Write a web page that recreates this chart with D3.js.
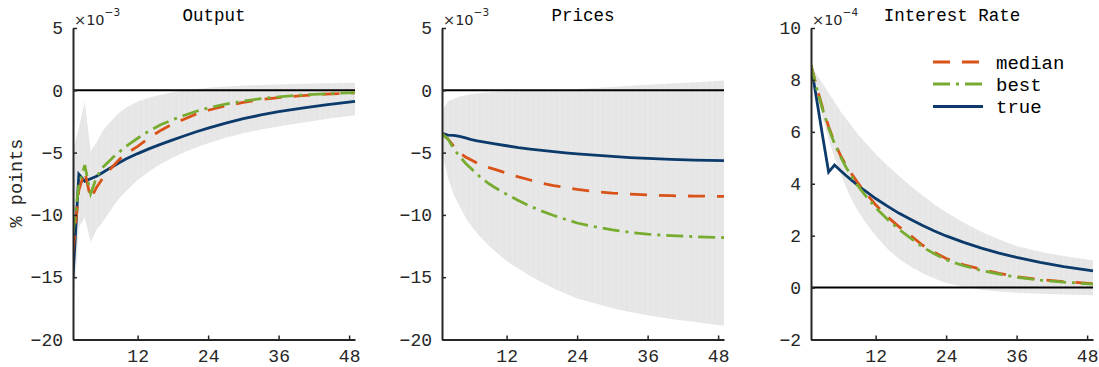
<!DOCTYPE html>
<html>
<head>
<meta charset="utf-8">
<script src="https://cdn.jsdelivr.net/npm/d3@7"></script>
<style>
  html, body { margin: 0; padding: 0; background: #ffffff; }
  svg { display: block; }
</style>
</head>
<body>
<div id="chart"></div>
<script>
// ---- data ----
const horizons = [1,2,3,4,5,6,7,8,9,10,12,14,16,18,20,22,24,27,30,33,36,40,44,49];

// Output (x 1e-3)
const outputMedian = [-13.0,-8.0,-6.5,-8.7,-7.8,-7.1,-6.5,-6.0,-5.5,-5.1,-4.5,-3.8,-3.2,-2.7,-2.3,-1.9,-1.6,-1.25,-0.96,-0.75,-0.58,-0.43,-0.31,-0.21];
const outputBest   = [-11.5,-7.6,-6.0,-8.3,-7.0,-6.2,-5.75,-5.3,-4.9,-4.5,-3.85,-3.25,-2.75,-2.35,-2.0,-1.68,-1.42,-1.1,-0.86,-0.67,-0.52,-0.38,-0.28,-0.18];
const outputTrue   = [-15.0,-6.75,-7.3,-7.1,-6.9,-6.62,-6.33,-6.05,-5.78,-5.52,-5.08,-4.68,-4.32,-3.98,-3.65,-3.33,-3.03,-2.63,-2.28,-1.98,-1.72,-1.43,-1.17,-0.88];
const outputLower  = [-18.0,-11.0,-10.2,-12.2,-11.2,-10.6,-9.9,-9.2,-8.6,-8.1,-7.2,-6.5,-5.9,-5.4,-4.95,-4.6,-4.25,-3.8,-3.45,-3.15,-2.9,-2.6,-2.3,-2.0];
const outputUpper  = [-4.8,-3.0,-0.9,-4.9,-4.2,-3.3,-2.7,-2.2,-1.75,-1.4,-0.9,-0.58,-0.35,-0.15,0.0,0.1,0.2,0.3,0.38,0.43,0.47,0.52,0.56,0.6];

// Prices (x 1e-3)
const pricesMedian = [-3.5,-3.9,-4.5,-5.0,-5.35,-5.6,-5.85,-6.05,-6.2,-6.35,-6.65,-6.95,-7.2,-7.45,-7.65,-7.8,-7.95,-8.12,-8.25,-8.33,-8.4,-8.46,-8.49,-8.52];
const pricesBest   = [-3.5,-3.9,-4.7,-5.3,-5.85,-6.3,-6.75,-7.15,-7.5,-7.8,-8.35,-8.85,-9.3,-9.7,-10.05,-10.35,-10.65,-10.95,-11.2,-11.4,-11.55,-11.67,-11.75,-11.82];
const pricesTrue   = [-3.45,-3.6,-3.62,-3.7,-3.82,-3.95,-4.05,-4.13,-4.22,-4.3,-4.45,-4.6,-4.72,-4.83,-4.93,-5.02,-5.1,-5.2,-5.3,-5.4,-5.47,-5.55,-5.6,-5.65];
const pricesLower  = [-5.0,-7.0,-8.4,-9.3,-10.2,-10.9,-11.5,-12.0,-12.5,-12.9,-13.7,-14.3,-14.9,-15.4,-15.9,-16.3,-16.7,-17.1,-17.5,-17.8,-18.05,-18.35,-18.6,-18.9];
const pricesUpper  = [-1.6,-0.9,-0.7,-0.5,-0.4,-0.3,-0.25,-0.2,-0.17,-0.14,-0.1,-0.07,-0.04,-0.02,0.0,0.05,0.1,0.18,0.27,0.36,0.45,0.55,0.65,0.78];

// Interest rate (x 1e-4)
const rateMedian = [8.57,7.7,6.9,6.2,5.6,5.1,4.7,4.35,4.03,3.73,3.19,2.73,2.34,2.0,1.63,1.36,1.12,0.88,0.7,0.55,0.42,0.31,0.23,0.15];
const rateBest   = [8.57,7.65,6.85,6.15,5.55,5.05,4.62,4.25,3.92,3.62,3.08,2.63,2.24,1.9,1.56,1.3,1.07,0.84,0.66,0.52,0.4,0.29,0.21,0.13];
const rateTrue   = [8.57,7.2,5.8,4.45,4.72,4.51,4.31,4.12,3.94,3.76,3.43,3.14,2.86,2.62,2.39,2.18,1.99,1.74,1.52,1.33,1.16,0.97,0.81,0.64];
const rateLower  = [8.4,7.4,6.5,5.7,5.0,4.4,3.85,3.35,2.95,2.6,2.0,1.5,1.1,0.8,0.55,0.35,0.18,0.02,-0.08,-0.15,-0.2,-0.24,-0.27,-0.3];
const rateUpper  = [8.5,8.2,7.85,7.5,7.15,6.8,6.5,6.2,5.9,5.65,5.15,4.7,4.3,3.9,3.55,3.2,2.9,2.5,2.15,1.85,1.6,1.38,1.22,1.05];

const titles = ["Output", "Prices", "Interest Rate"];
const exponents = ["\u22123", "\u22123", "\u22124"];
const xTicks = [12, 24, 36, 48];
const outputYTicks = [5, 0, -5, -10, -15, -20];
const pricesYTicks = [5, 0, -5, -10, -15, -20];
const rateYTicks = [10, 8, 6, 4, 2, 0, -2];
const legendLabels = ["median", "best", "true"];

// ---- layout / style ----
const W = 1099, H = 367;
const panelLeft = [73, 442, 811];
const panelWidth = 282;
const plotTop = 28, plotBottom = 339.5;
const colors = { median: "#D95319", best: "#77AC30", truth: "#0b3a6b", band: "#e6e6e6" };
const monoFont = "'Liberation Mono', 'Courier New', monospace";

const panels = [
  { median: outputMedian, best: outputBest, truth: outputTrue, lo: outputLower, hi: outputUpper, domain: [-20, 5], ticks: outputYTicks },
  { median: pricesMedian, best: pricesBest, truth: pricesTrue, lo: pricesLower, hi: pricesUpper, domain: [-20, 5], ticks: pricesYTicks },
  { median: rateMedian, best: rateBest, truth: rateTrue, lo: rateLower, hi: rateUpper, domain: [-2, 10], ticks: rateYTicks }
];

const svg = d3.select("#chart").append("svg")
  .attr("width", W).attr("height", H)
  .attr("viewBox", `0 0 ${W} ${H}`);

panels.forEach((p, i) => {
  const x0 = panelLeft[i];
  const x = d3.scaleLinear().domain([1, 49]).range([x0, x0 + panelWidth]);
  const y = d3.scaleLinear().domain(p.domain).range([plotBottom, plotTop]);
  const g = svg.append("g");

  const clipId = "clip" + i;
  svg.append("clipPath").attr("id", clipId).append("rect")
    .attr("x", x0).attr("y", plotTop).attr("width", panelWidth + 2).attr("height", plotBottom - plotTop);

  const plot = g.append("g").attr("clip-path", `url(#${clipId})`);

  // band
  const area = d3.area()
    .x((d, k) => x(horizons[k]))
    .y0((d, k) => y(p.lo[k]))
    .y1((d, k) => y(p.hi[k]))
    .curve(d3.curveLinear);
  plot.append("path").datum(horizons).attr("d", area).attr("fill", colors.band);

  // faint vertical striping of the band (one strip per month)
  const months = d3.range(2, 49);
  plot.append("g").selectAll("line").data(months).join("line")
    .attr("x1", d => x(d)).attr("x2", d => x(d))
    .attr("y1", plotTop).attr("y2", plotBottom)
    .attr("stroke", "#ffffff").attr("stroke-opacity", 0.3).attr("stroke-width", 0.6);

  // zero line
  plot.append("line")
    .attr("x1", x(1)).attr("x2", x(49))
    .attr("y1", y(0)).attr("y2", y(0))
    .attr("stroke", "#000").attr("stroke-width", 2);

  const line = vals => d3.line()
    .x((d, k) => x(horizons[k]))
    .y((d, k) => y(vals[k]))
    .curve(d3.curveLinear)(horizons);

  plot.append("path").attr("d", line(p.truth))
    .attr("fill", "none").attr("stroke", colors.truth).attr("stroke-width", 2.8)
    .attr("stroke-linejoin", "miter");
  plot.append("path").attr("d", line(p.median))
    .attr("fill", "none").attr("stroke", colors.median).attr("stroke-width", 2.8)
    .attr("stroke-dasharray", "17,12");
  plot.append("path").attr("d", line(p.best))
    .attr("fill", "none").attr("stroke", colors.best).attr("stroke-width", 2.8)
    .attr("stroke-dasharray", "17,6,3,6");

  // axes
  const yAxis = d3.axisLeft(y).tickValues(p.ticks).tickSizeInner(-4).tickSizeOuter(0).tickPadding(10)
    .tickFormat(d3.format("d"));
  const xAxis = d3.axisBottom(x).tickValues(xTicks).tickSizeInner(-4).tickSizeOuter(0).tickPadding(10)
    .tickFormat(d3.format("d"));

  const ya = g.append("g").attr("transform", `translate(${x0},0)`).call(yAxis);
  const xa = g.append("g").attr("transform", `translate(0,${plotBottom})`).call(xAxis);
  [ya, xa].forEach(a => {
    a.select(".domain").attr("stroke", "#262626").attr("stroke-width", 2);
    a.selectAll(".tick line").attr("stroke", "#262626").attr("stroke-width", 1.5);
    a.selectAll(".tick text").attr("fill", "#262626")
      .style("font-family", monoFont).style("font-size", "18px");
  });

  // title
  g.append("text").attr("x", x0 + panelWidth / 2).attr("y", 21)
    .attr("text-anchor", "middle").attr("fill", "#000")
    .style("font-family", monoFont).style("font-size", "17.5px")
    .text(titles[i]);

  // exponent
  const ex = g.append("text").attr("x", x0 + 1).attr("y", 25)
    .attr("fill", "#262626")
    .style("font-family", "'DejaVu Sans', sans-serif").style("font-size", "14.5px");
  ex.append("tspan").text("\u00d710");
  ex.append("tspan").attr("dy", -9).style("font-size", "10.5px").text(exponents[i]);

  // legend on last panel
  if (i === 2) {
    const lg = g.append("g");
    const rows = [
      { label: legendLabels[0], color: colors.median, dash: "17,12", y: 62 },
      { label: legendLabels[1], color: colors.best, dash: "17,6,3,6", y: 84 },
      { label: legendLabels[2], color: colors.truth, dash: null, y: 106.5 }
    ];
    rows.forEach(r => {
      lg.append("line").attr("x1", 933).attr("x2", 983).attr("y1", r.y).attr("y2", r.y)
        .attr("stroke", r.color).attr("stroke-width", 2.8)
        .attr("stroke-dasharray", r.dash);
      lg.append("text").attr("x", 996).attr("y", r.y).attr("dy", "0.35em")
        .attr("fill", "#000")
        .style("font-family", monoFont).style("font-size", "19px")
        .text(r.label);
    });
  }
});

// y label
svg.append("text")
  .attr("transform", "translate(22,183) rotate(-90)")
  .attr("text-anchor", "middle").attr("fill", "#262626")
  .style("font-family", monoFont).style("font-size", "18.5px")
  .text("% points");
</script>
</body>
</html>
